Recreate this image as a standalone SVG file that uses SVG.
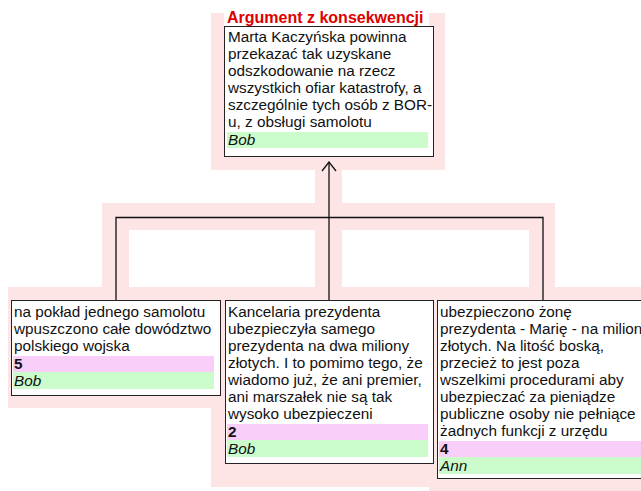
<svg xmlns="http://www.w3.org/2000/svg" width="641" height="491" viewBox="0 0 641 491">
  <style>
    .hl { fill: #fde5e5; }
    .box { fill: #ffffff; stroke: #222222; stroke-width: 1; }
    .txt { font-family: "Liberation Sans", Arial, sans-serif; font-size: 15.3px; fill: #111111; }
    .title { font-family: "Liberation Sans", Arial, sans-serif; font-size: 16px; font-weight: bold; fill: #dd0000; }
    .num { fill: #f9cff9; }
    .who { fill: #ccfccc; }
    .b { font-weight: bold; }
    .i { font-style: italic; }
    .edge { fill: none; stroke: #111111; stroke-width: 1.3; }
  </style>
  <defs>
    <!-- open V arrowhead, tip at the end of the line -->
    <marker id="open-arrow" markerWidth="11" markerHeight="16" refX="10" refY="8" orient="auto" markerUnits="userSpaceOnUse" viewBox="0 0 11 16">
      <path d="M1,1 L10,8 L1,15" fill="none" stroke="#111111" stroke-width="1.3"/>
    </marker>
  </defs>

  <!-- highlighted argument region -->
  <g id="highlight">
    <rect class="hl" x="211" y="13" width="234" height="157"/>
    <rect class="hl" x="315" y="170" width="27" height="33"/>
    <rect class="hl" x="102" y="203" width="453" height="27"/>
    <rect class="hl" x="102" y="230" width="27" height="57"/>
    <rect class="hl" x="315" y="230" width="27" height="57"/>
    <rect class="hl" x="529" y="230" width="26" height="57"/>
    <rect class="hl" x="8" y="287" width="633" height="121"/>
    <rect class="hl" x="211" y="408" width="234" height="79"/>
    <rect class="hl" x="429" y="408" width="212" height="83"/>
  </g>

  <!-- connectors -->
  <g id="connectors">
    <path class="edge" d="M329,300 L329,162" marker-end="url(#open-arrow)"/>
    <path class="edge" d="M116,300 L116,217.5 L543,217.5 L543,300"/>
  </g>

  <!-- conclusion -->
  <g id="node-conclusion">
    <rect x="224" y="13" width="205" height="14" fill="#ffffff"/>
    <text class="title" x="227" y="23">Argument z konsekwencji</text>
    <rect class="box" x="224.5" y="26.5" width="209" height="130"/>
    <text class="txt" x="228" y="42">Marta Kaczyńska powinna</text>
    <text class="txt" x="228" y="59">przekazać tak uzyskane</text>
    <text class="txt" x="228" y="76">odszkodowanie na rzecz</text>
    <text class="txt" x="228" y="93">wszystkich ofiar katastrofy, a</text>
    <text class="txt" x="228" y="110">szczególnie tych osób z BOR-</text>
    <text class="txt" x="228" y="127">u, z obsługi samolotu</text>
    <rect class="who" x="227" y="132" width="201" height="16"/>
    <text class="txt i" x="228" y="145">Bob</text>
  </g>

  <!-- premise 1 -->
  <g id="node-premise-1">
    <rect class="box" x="11.5" y="300.5" width="209" height="95"/>
    <text class="txt" x="14" y="317">na pokład jednego samolotu</text>
    <text class="txt" x="14" y="334">wpuszczono całe dowództwo</text>
    <text class="txt" x="14" y="351">polskiego wojska</text>
    <rect class="num" x="13" y="356" width="201" height="16"/>
    <text class="txt b" x="14" y="369">5</text>
    <rect class="who" x="13" y="372" width="201" height="17"/>
    <text class="txt i" x="14" y="386">Bob</text>
  </g>

  <!-- premise 2 -->
  <g id="node-premise-2">
    <rect class="box" x="225.5" y="300.5" width="208" height="163"/>
    <text class="txt" x="228" y="317">Kancelaria prezydenta</text>
    <text class="txt" x="228" y="334">ubezpieczyła samego</text>
    <text class="txt" x="228" y="351">prezydenta na dwa miliony</text>
    <text class="txt" x="228" y="368">złotych. I to pomimo tego, że</text>
    <text class="txt" x="228" y="385">wiadomo już, że ani premier,</text>
    <text class="txt" x="228" y="402">ani marszałek nie są tak</text>
    <text class="txt" x="228" y="419">wysoko ubezpieczeni</text>
    <rect class="num" x="227" y="424" width="201" height="16"/>
    <text class="txt b" x="228" y="437">2</text>
    <rect class="who" x="227" y="440" width="201" height="17"/>
    <text class="txt i" x="228" y="454">Bob</text>
  </g>

  <!-- premise 3 -->
  <g id="node-premise-3">
    <rect class="box" x="437.5" y="300.5" width="212" height="178"/>
    <text class="txt" x="440" y="317">ubezpieczono żonę</text>
    <text class="txt" x="440" y="334">prezydenta - Marię - na milion</text>
    <text class="txt" x="440" y="351">złotych. Na litość boską,</text>
    <text class="txt" x="440" y="368">przecież to jest poza</text>
    <text class="txt" x="440" y="385">wszelkimi procedurami aby</text>
    <text class="txt" x="440" y="402">ubezpieczać za pieniądze</text>
    <text class="txt" x="440" y="419">publiczne osoby nie pełniące</text>
    <text class="txt" x="440" y="436">żadnych funkcji z urzędu</text>
    <rect class="num" x="439" y="441" width="202" height="16"/>
    <text class="txt b" x="440" y="454">4</text>
    <rect class="who" x="439" y="457" width="202" height="17"/>
    <text class="txt i" x="440" y="471">Ann</text>
  </g>
</svg>
